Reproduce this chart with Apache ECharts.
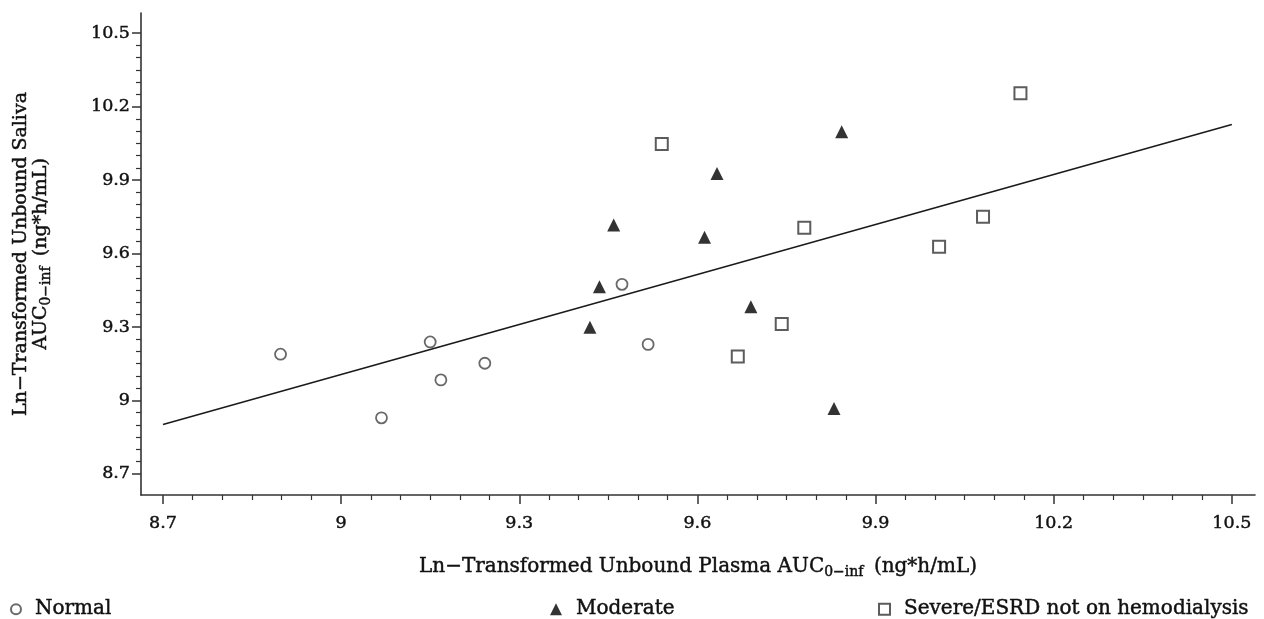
<!DOCTYPE html>
<html>
<head>
<meta charset="utf-8">
<script src="https://cdn.jsdelivr.net/npm/echarts@6/dist/echarts.min.js"></script>
<style>
html,body{margin:0;padding:0;background:#fff;}
#chart{width:1264px;height:619px;}
</style>
</head>
<body>
<div id="chart"></div>
<script>
// ---- data ----
var xTickLabels = [8.7, 9, 9.3, 9.6, 9.9, 10.2, 10.5];
var yTickLabels = [8.7, 9, 9.3, 9.6, 9.9, 10.2, 10.5];

var normalX = [8.898, 9.068, 9.150, 9.168, 9.242, 9.473, 9.517];
var normalY = [9.189, 8.929, 9.239, 9.084, 9.152, 9.474, 9.229];

var moderateX = [9.419, 9.435, 9.459, 9.612, 9.633, 9.690, 9.830, 9.843];
var moderateY = [9.299, 9.464, 9.716, 9.666, 9.927, 9.383, 8.967, 10.097];

var severeX = [9.540, 9.668, 9.742, 9.780, 10.007, 10.081, 10.144];
var severeY = [10.047, 9.180, 9.312, 9.705, 9.628, 9.750, 10.254];

var fitX = [8.7, 10.5];
var fitY = [8.902, 10.127];

var seriesNames = ['Normal', 'Moderate', 'Severe/ESRD not on hemodialysis'];

// ---- helpers ----
function pairs(xs, ys) { return xs.map(function (x, i) { return [x, ys[i]]; }); }
function minorTicks(majors) {
  var out = [];
  for (var i = 0; i < majors.length - 1; i++) {
    for (var k = 1; k < 6; k++) out.push(+(majors[i] + (majors[i + 1] - majors[i]) * k / 6).toFixed(4));
  }
  return out;
}

var FONT = 'DejaVu Serif';
var TXT = '#111';
var AX = '#333';
var STROKE = { textBorderColor: '#111', textBorderWidth: 0.45 };
var xMin = 8.663, xMax = 10.539, yMin = 8.614, yMax = 10.582;

function ts(size, extra) {
  var o = { fontFamily: FONT, fontSize: size, color: TXT, textBorderColor: STROKE.textBorderColor, textBorderWidth: STROKE.textBorderWidth };
  for (var k in (extra || {})) o[k] = extra[k];
  return o;
}

var chart = echarts.init(document.getElementById('chart'));
var subStyle = ts(14, { padding: [11, 4, 0, 0] });
var legendText = ts(20, { padding: [0, 0, 0, 9] });
var option = {
  backgroundColor: '#fff',
  animation: false,
  textStyle: { fontFamily: FONT, color: TXT },
  grid: { left: 141, right: 9, top: 13, bottom: 124, containLabel: false },
  xAxis: [{
    type: 'value', position: 'bottom', min: xMin, max: xMax,
    splitLine: { show: false },
    axisLine: { show: true, lineStyle: { color: AX, width: 1.6 } },
    axisTick: { show: true, customValues: xTickLabels, length: 9, lineStyle: { color: AX, width: 1.5 } },
    axisLabel: Object.assign({ customValues: xTickLabels, margin: 19 }, ts(17.5)),
    name: 'Ln\u2212Transformed Unbound Plasma AUC{sub|0\u2212inf} (ng*h/mL)',
    nameLocation: 'middle', nameGap: 59,
    nameTextStyle: ts(20, { rich: { sub: subStyle } })
  }, {
    type: 'value', position: 'bottom', min: xMin, max: xMax,
    splitLine: { show: false },
    axisLine: { show: false },
    axisTick: { show: true, customValues: minorTicks(xTickLabels), length: 5, lineStyle: { color: AX, width: 1.2 } },
    axisLabel: { show: false }
  }],
  yAxis: [{
    type: 'value', position: 'left', min: yMin, max: yMax,
    splitLine: { show: false },
    axisLine: { show: true, lineStyle: { color: AX, width: 1.6 } },
    axisTick: { show: true, customValues: yTickLabels, length: 9, lineStyle: { color: AX, width: 1.5 } },
    axisLabel: Object.assign({ customValues: yTickLabels, margin: 11 }, ts(17.5)),
    name: 'Ln\u2212Transformed Unbound Saliva\nAUC{sub|0\u2212inf} (ng*h/mL)',
    nameLocation: 'middle', nameGap: 90, nameRotate: 90,
    nameTextStyle: ts(19, { lineHeight: 20, align: 'center', rich: { sub: subStyle } })
  }, {
    type: 'value', position: 'left', min: yMin, max: yMax,
    splitLine: { show: false },
    axisLine: { show: false },
    axisTick: { show: true, customValues: minorTicks(yTickLabels), length: 5, lineStyle: { color: AX, width: 1.2 } },
    axisLabel: { show: false }
  }],
  legend: [
    { data: [seriesNames[0]], left: 5, top: 594, itemWidth: 10, itemHeight: 10, textStyle: legendText },
    { data: [seriesNames[1]], left: 545, top: 594, itemWidth: 12, itemHeight: 12, textStyle: legendText },
    { data: [seriesNames[2]], left: 873, top: 594, itemWidth: 11, itemHeight: 11, textStyle: legendText }
  ],
  series: [
    {
      name: 'fit', type: 'line', data: pairs(fitX, fitY), symbol: 'none', silent: true,
      lineStyle: { color: '#1a1a1a', width: 1.6 }, z: 1
    },
    {
      name: seriesNames[0], type: 'scatter', data: pairs(normalX, normalY),
      symbol: 'circle', symbolSize: 11,
      itemStyle: { color: '#fff', borderColor: '#444', borderWidth: 1.8 }, z: 3
    },
    {
      name: seriesNames[1], type: 'scatter', data: pairs(moderateX, moderateY),
      symbol: 'triangle', symbolSize: 13,
      itemStyle: { color: '#000', borderColor: '#000', borderWidth: 0 }, z: 3
    },
    {
      name: seriesNames[2], type: 'scatter', data: pairs(severeX, severeY),
      symbol: 'rect', symbolSize: 12,
      itemStyle: { color: '#fff', borderColor: '#333', borderWidth: 2 }, z: 3
    }
  ]
};
chart.setOption(option);
</script>
</body>
</html>
